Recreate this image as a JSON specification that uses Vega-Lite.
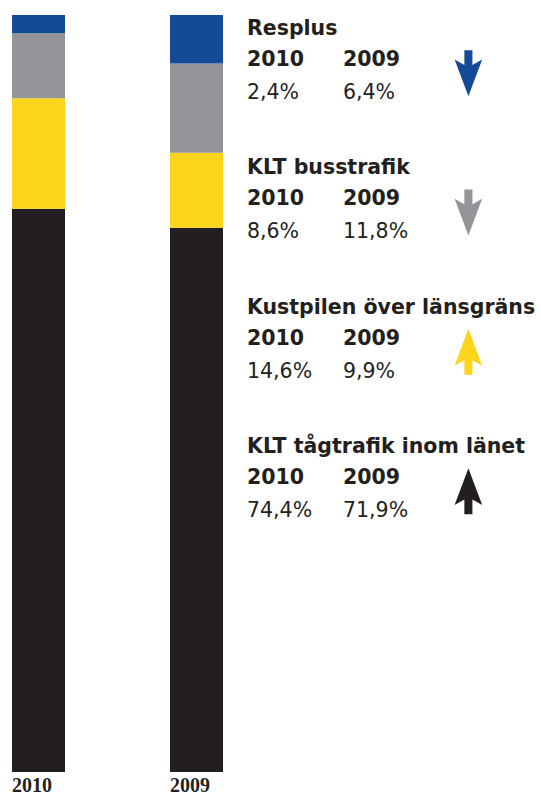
{
  "$schema": "https://vega.github.io/schema/vega-lite/v6.json",
  "padding": {"left": 0, "top": 15, "right": 0, "bottom": 0},
  "background": "white",
  "config": {
    "view": {"stroke": null},
    "locale": {"number": {"decimal": ",", "thousands": " ", "grouping": [3], "currency": ["", " kr"]}}
  },
  "data": {
    "values": [
      {"category": "KLT tågtrafik inom länet", "year": "2010", "share": 0.744, "trend": "up", "rank": 1},
      {"category": "Kustpilen över länsgräns", "year": "2010", "share": 0.146, "trend": "up", "rank": 2},
      {"category": "KLT busstrafik", "year": "2010", "share": 0.086, "trend": "down", "rank": 3},
      {"category": "Resplus", "year": "2010", "share": 0.024, "trend": "down", "rank": 4},
      {"category": "KLT tågtrafik inom länet", "year": "2009", "share": 0.719, "trend": "up", "rank": 1},
      {"category": "Kustpilen över länsgräns", "year": "2009", "share": 0.099, "trend": "up", "rank": 2},
      {"category": "KLT busstrafik", "year": "2009", "share": 0.118, "trend": "down", "rank": 3},
      {"category": "Resplus", "year": "2009", "share": 0.064, "trend": "down", "rank": 4}
    ]
  },
  "hconcat": [
    {
      "width": 235,
      "height": 757,
      "mark": {"type": "bar"},
      "encoding": {
        "x": {
          "field": "year", "type": "nominal",
          "scale": {"domain": ["2010", "2009"], "paddingInner": 0.6646, "paddingOuter": 0.076},
          "axis": {
            "title": null, "domain": false, "ticks": false, "tickSize": 0, "labelAngle": 0,
            "labelAlign": "left", "labelOffset": -26.5, "labelFont": "Liberation Serif",
            "labelFontWeight": "bold", "labelFontSize": 20, "labelColor": "#231F20", "labelPadding": 3
          }
        },
        "y": {
          "field": "share", "type": "quantitative", "stack": "zero",
          "scale": {"domain": [0, 1], "nice": false}, "axis": null
        },
        "order": {"field": "rank", "type": "quantitative"},
        "color": {
          "field": "category", "type": "nominal", "legend": null,
          "scale": {
            "domain": ["Resplus", "KLT busstrafik", "Kustpilen över länsgräns", "KLT tågtrafik inom länet"],
            "range": ["#154A96", "#939598", "#FDD51C", "#231F20"]
          }
        }
      }
    },
    {
      "width": 294,
      "height": 757,
      "encoding": {
        "x": {"field": "year", "type": "nominal", "axis": null,
              "scale": {"type": "point", "domain": ["2010", "2009"], "range": [0, 96], "padding": 0}},
        "y": {"field": "category", "type": "nominal", "axis": null,
              "scale": {"type": "point", "domain": ["Resplus", "KLT busstrafik", "Kustpilen över länsgräns", "KLT tågtrafik inom länet"], "range": [20, 438], "padding": 0}}
      },
      "layer": [
        {
          "transform": [{"filter": "datum.year == '2010'"}],
          "mark": {"type": "text", "align": "left", "baseline": "alphabetic", "font": "DejaVu Sans", "fontWeight": "bold", "fontSize": 20.5, "color": "#231F20"},
          "encoding": {"text": {"field": "category"}}
        },
        {
          "mark": {"type": "text", "align": "left", "baseline": "alphabetic", "dy": 31, "font": "DejaVu Sans", "fontWeight": "bold", "fontSize": 20.5, "color": "#231F20"},
          "encoding": {"text": {"field": "year"}}
        },
        {
          "mark": {"type": "text", "align": "left", "baseline": "alphabetic", "dy": 64, "font": "DejaVu Sans", "fontWeight": "normal", "fontSize": 20.5, "color": "#231F20"},
          "encoding": {"text": {"field": "share", "type": "quantitative", "format": ".1%"}}
        },
        {
          "transform": [{"filter": "datum.year == '2009'"}],
          "mark": {"type": "point", "filled": true, "opacity": 1, "strokeWidth": 0, "size": 2116},
          "encoding": {
            "shape": {
              "field": "trend", "type": "nominal", "legend": null,
              "scale": {
                "domain": ["down", "up"],
                "range": [
                  "M5.277,0.66L5.627,0.66L5.627,1.3L6.052,1.06L5.452,2.66L4.852,1.06L5.277,1.3Z",
                  "M5.277,2.66L5.627,2.66L5.627,2.02L6.052,2.26L5.452,0.66L4.852,2.26L5.277,2.02Z"
                ]
              }
            },
            "color": {
              "field": "category", "type": "nominal", "legend": null,
              "scale": {
                "domain": ["Resplus", "KLT busstrafik", "Kustpilen över länsgräns", "KLT tågtrafik inom länet"],
                "range": ["#154A96", "#939598", "#FDD51C", "#231F20"]
              }
            }
          }
        }
      ]
    }
  ],
  "spacing": 12
}
